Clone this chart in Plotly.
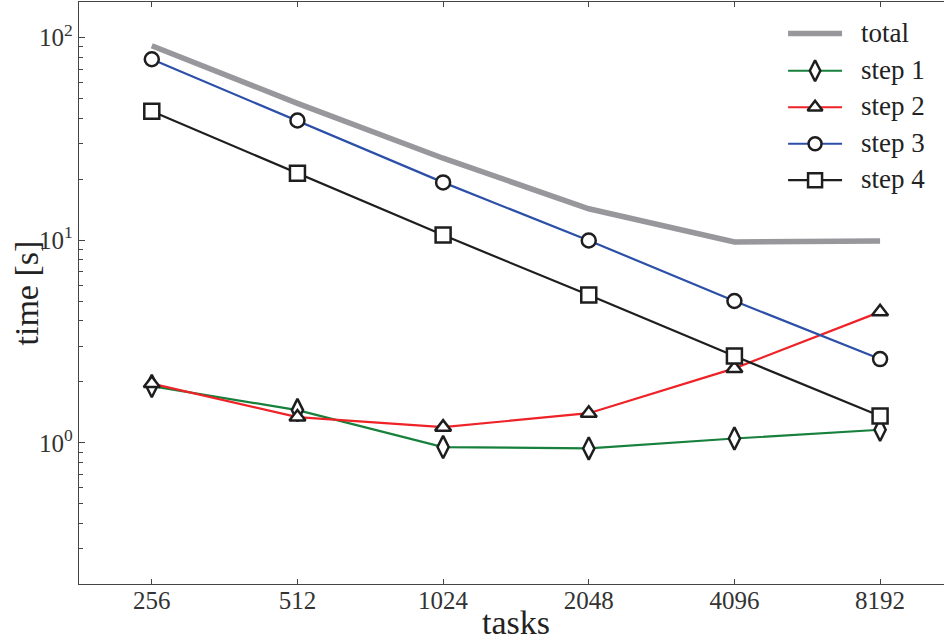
import plotly.graph_objects as go

# Timing of each processing step versus the number of tasks
tasks = [256, 512, 1024, 2048, 4096, 8192]
tick_labels = ["256", "512", "1024", "2048", "4096", "8192"]
total = [91.2, 47.4, 25.4, 14.3, 9.81, 9.92]
step1 = [1.905, 1.45, 0.953, 0.938, 1.05, 1.16]
step2 = [1.96, 1.34, 1.195, 1.40, 2.33, 4.43]
step3 = [78.2, 39.0, 19.3, 9.97, 5.01, 2.59]
step4 = [43.3, 21.4, 10.6, 5.36, 2.68, 1.355]

FONT = "'Liberation Serif', 'DejaVu Serif', serif"
INK = "#222222"
GRAY = "#97979c"
GREEN = "#16803c"
RED = "#ee2227"
BLUE = "#2c50a8"
BLACK = "#1e1e1e"

series = [
    ("total", total, GRAY, 5.5, None, 0),
    ("step 1", step1, GREEN, 2.2, "diamond-tall", 16),
    ("step 2", step2, RED, 2.2, "triangle-up", 14),
    ("step 3", step3, BLUE, 2.2, "circle", 14),
    ("step 4", step4, BLACK, 2.2, "square", 15),
]

fig = go.Figure()
for name, vals, color, width, symbol, size in series:
    mode = "lines" if symbol is None else "lines+markers"
    fig.add_trace(go.Scatter(
        x=tasks, y=vals, name=name, mode=mode,
        line=dict(color=color, width=width),
        marker=dict(symbol=symbol or "circle", size=size, color="white",
                    line=dict(color=BLACK, width=2.5)),
        showlegend=False,
    ))

# Legend drawn on an overlay axis measured in pixels of the plot area
L, R, T, B = 78.5, 944.0, 1.7, 584.0
leg_y = [33.3, 70.5, 107.0, 143.5, 180.0]
leg_x0, leg_x1, leg_text = 788, 842, 859
for (name, vals, color, width, symbol, size), yy in zip(series, leg_y):
    fig.add_trace(go.Scatter(
        x=[leg_x0, leg_x1], y=[yy, yy], mode="lines",
        line=dict(color=color, width=width if symbol is None else 2.2),
        xaxis="x2", yaxis="y2", showlegend=False, hoverinfo="skip",
    ))
    if symbol is not None:
        fig.add_trace(go.Scatter(
            x=[(leg_x0 + leg_x1) / 2], y=[yy], mode="markers",
            marker=dict(symbol=symbol, size=size - 1, color="white",
                        line=dict(color=BLACK, width=2.5)),
            xaxis="x2", yaxis="y2", showlegend=False, hoverinfo="skip",
        ))
    fig.add_annotation(
        x=leg_text, y=yy, xref="x2", yref="y2", text=name, showarrow=False,
        xanchor="left", yanchor="middle", yshift=1,
        font=dict(family=FONT, size=27, color=INK),
    )

minor_vals = [m * 10 ** e for e in (-1, 0, 1) for m in range(2, 10)]

fig.update_layout(
    width=944, height=641,
    margin=dict(l=L, r=0, t=T, b=641 - B),
    paper_bgcolor="white", plot_bgcolor="white",
    font=dict(family=FONT, color=INK),
    xaxis=dict(
        type="log", range=[2.2578, 4.0455],
        tickmode="array", tickvals=tasks, ticktext=tick_labels,
        ticks="inside", ticklen=5, tickwidth=1.2, tickcolor="#444",
        ticklabelstandoff=-6,
        showline=True, linecolor="#444", linewidth=1.4, mirror="ticks",
        showgrid=False, zeroline=False,
        tickfont=dict(family=FONT, size=25, color="#333"),
    ),
    yaxis=dict(
        type="log", range=[-0.697, 2.176],
        tickmode="array", tickvals=[1, 10, 100],
        ticktext=["10<sup>0</sup>", "10<sup>1</sup>", "10<sup>2</sup>"],
        ticks="inside", ticklen=6, tickwidth=1.2, tickcolor="#444",
        minor=dict(tickmode="array", tickvals=minor_vals, ticks="inside",
                   ticklen=3.5, tickwidth=1.1, tickcolor="#444", showgrid=False),
        showline=True, linecolor="#444", linewidth=1.4,
        showgrid=False, zeroline=False,
        tickfont=dict(family=FONT, size=25, color="#333"),
    ),
    xaxis2=dict(range=[L, R], overlaying="x", visible=False, fixedrange=True),
    yaxis2=dict(range=[B, T], overlaying="y", visible=False, fixedrange=True),
)

fig.add_annotation(
    x=0, y=0.5, xref="paper", yref="paper", text="time [s]", showarrow=False,
    textangle=-90, xanchor="center", yanchor="middle", xshift=-(L - 25),
    font=dict(family=FONT, size=34, color=INK),
)
fig.add_annotation(
    x=(516 - L) / (R - L), y=0, xref="paper", yref="paper", text="tasks",
    showarrow=False, xanchor="center", yanchor="middle", yshift=-(622 - B),
    font=dict(family=FONT, size=34, color=INK),
)

fig.write_html("out.html")
